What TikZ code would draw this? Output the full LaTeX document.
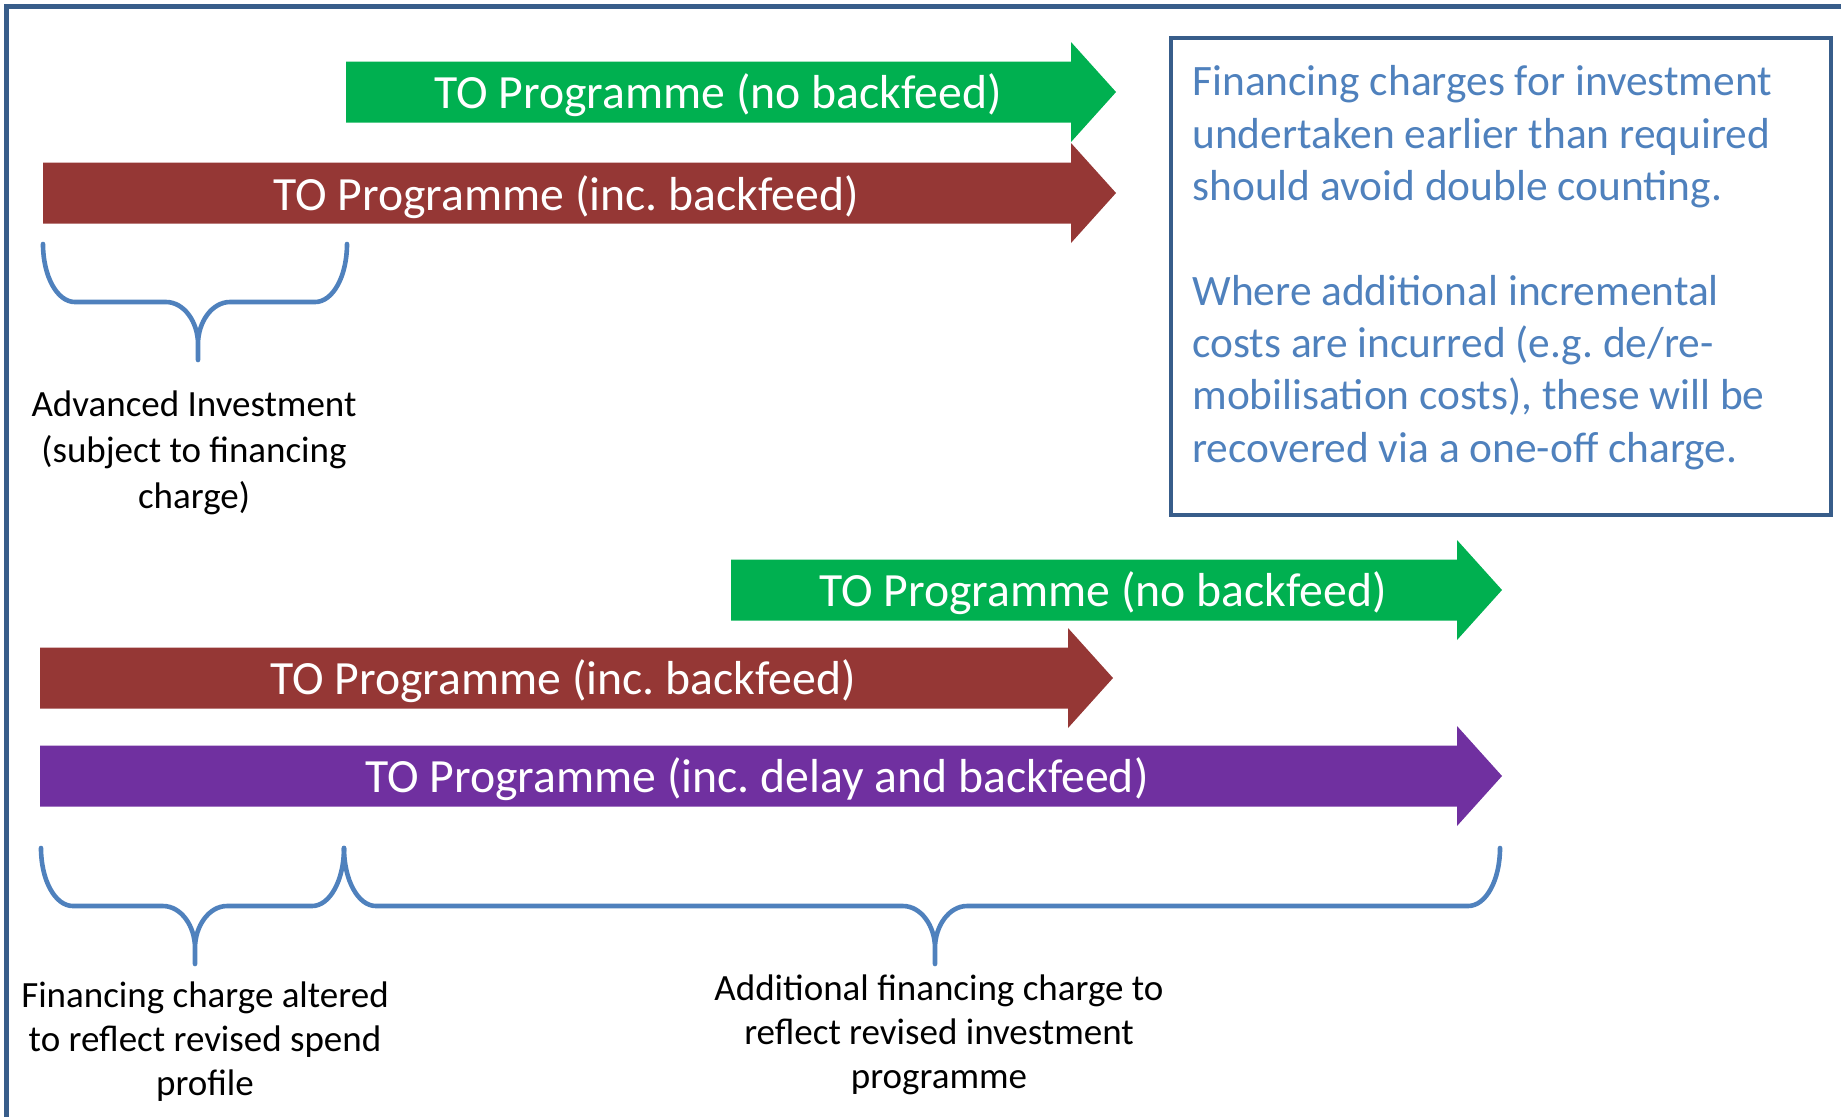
\documentclass[tikz,border=0pt]{standalone}
\usepackage{fontspec}
\setmainfont{Carlito}
\frenchspacing
\definecolor{progGreen}{HTML}{00B050}
\definecolor{progRed}{HTML}{953735}
\definecolor{progPurple}{HTML}{7030A0}
\definecolor{noteBlue}{HTML}{4F81BD}
\definecolor{frameBlue}{HTML}{385D8A}
\tikzset{
  frameline/.style={draw=frameBlue, line width=2.5pt, line join=miter},
  notebox/.style={draw=frameBlue, line width=2pt},
  bracket/.style={draw=noteBlue, line width=2.3pt, line cap=round, line join=round},
  arrowtext/.style={anchor=base, inner sep=0pt, text=white, font=\fontsize{23.85}{28}\selectfont},
  notetext/.style={anchor=base west, inner sep=0pt, align=left, text=noteBlue, font=\fontsize{21.7}{26.15}\selectfont},
  labeltext/.style={anchor=base, inner sep=0pt, align=center, font=\fontsize{18.5}{22}\selectfont}
}
% block arrow: colour, left x, head base x, centre y
\newcommand{\progarrow}[4]{%
  \fill[#1] (#2,{#4-30.5}) -- (#3,{#4-30.5}) -- (#3,{#4-50}) -- ({#3+45},#4)
    -- (#3,{#4+50}) -- (#3,{#4+30.5}) -- (#2,{#4+30.5}) -- cycle;}
% brace: left x, right x, middle x, top y
\newcommand{\blockbrace}[4]{%
  \draw[bracket] (#1,#4) .. controls (#1,{#4+32}) and ({#1+14},{#4+58}) .. ({#1+32},{#4+58})
    -- ({#3-32},{#4+58}) .. controls ({#3-14},{#4+58}) and (#3,{#4+78}) .. (#3,{#4+100})
    -- (#3,{#4+116}) -- (#3,{#4+100}) .. controls (#3,{#4+78}) and ({#3+14},{#4+58}) .. ({#3+32},{#4+58})
    -- ({#2-32},{#4+58}) .. controls ({#2-14},{#4+58}) and (#2,{#4+32}) .. (#2,#4);}
\begin{document}
\begin{tikzpicture}[x=0.5pt,y=0.5pt,yscale=-1,xscale=1]
\useasboundingbox (0,0) rectangle (1841,1116);

%Shape: Frame
\draw[frameline] (6.5,1125) -- (6.5,6.5) -- (1850,6.5);

%Shape: Right Arrows
\progarrow{progGreen}{346}{1071}{92}
\progarrow{progRed}{43}{1071}{193}
\progarrow{progGreen}{731}{1457}{590}
\progarrow{progRed}{40}{1068}{678}
\progarrow{progPurple}{40}{1457}{776}

% Text Node
\node[arrowtext] (greenTop) at (718,108) {TO Programme (no backfeed)};
% Text Node
\node[arrowtext] (redTop) at (566,210) {TO Programme (inc. backfeed)};
% Text Node
\node[arrowtext] (greenLow) at (1103,606) {TO Programme (no backfeed)};
% Text Node
\node[arrowtext] (redLow) at (563,694.5) {TO Programme (inc. backfeed)};
% Text Node
\node[arrowtext] (purpleLow) at (757,792) {TO Programme (inc. delay and backfeed)};

%Shape: Rectangle
\draw[notebox] (1171,38) rectangle (1831,515);
% Text Node (base = last line)
\node[notetext] (note) at (1192,462) {Financing charges for investment\\undertaken earlier than required\\should avoid double counting.\\[26.15pt]Where additional incremental\\costs are incurred (e.g. de/re-\\mobilisation costs), these will be\\recovered via a one-off charge.};

%Shape: Braces
\blockbrace{43}{347}{198}{244}
\blockbrace{41}{344}{195}{848}
\blockbrace{344}{1500}{935}{848}

% Text Node
\node[labeltext, font=\fontsize{18.5}{23}\selectfont] (advanced) at (194,508) {Advanced Investment\\(subject to financing\\charge)};
% Text Node
\node[labeltext] (altered) at (205,1095) {Financing charge altered\\to reflect revised spend\\profile};
% Text Node
\node[labeltext] (additional) at (939,1088) {Additional financing charge to\\reflect revised investment\\programme};

\end{tikzpicture}
\end{document}
